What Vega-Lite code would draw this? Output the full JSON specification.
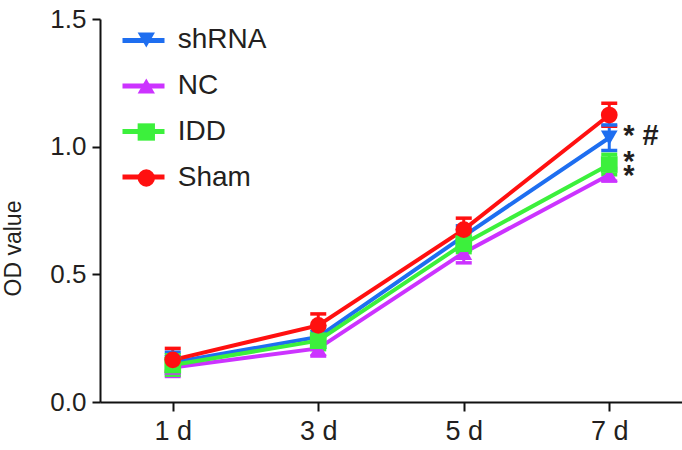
{
  "$schema": "https://vega.github.io/schema/vega-lite/v6.json",
  "width": 582,
  "height": 383,
  "autosize": {"type": "none"},
  "padding": {"left": 100, "top": 19, "right": 0, "bottom": 48},
  "background": "white",
  "config": {
    "view": {"stroke": null},
    "font": "Liberation Sans",
    "axis": {
      "domainColor": "#111111",
      "domainWidth": 2,
      "tickColor": "#111111",
      "tickWidth": 2,
      "labelFont": "Liberation Sans",
      "labelColor": "#231f20",
      "titleFont": "Liberation Sans",
      "titleColor": "#231f20",
      "titleFontWeight": "normal",
      "grid": false
    }
  },
  "datasets": {
    "pts": [
      {"group": "shRNA", "day": "1 d", "od": 0.155, "lo": 0.115, "hi": 0.195},
      {"group": "shRNA", "day": "3 d", "od": 0.255, "lo": 0.215, "hi": 0.295},
      {"group": "shRNA", "day": "5 d", "od": 0.65, "lo": 0.61, "hi": 0.69},
      {"group": "shRNA", "day": "7 d", "od": 1.035, "lo": 0.985, "hi": 1.085},
      {"group": "NC", "day": "1 d", "od": 0.135, "lo": 0.1, "hi": 0.17},
      {"group": "NC", "day": "3 d", "od": 0.21, "lo": 0.18, "hi": 0.24},
      {"group": "NC", "day": "5 d", "od": 0.585, "lo": 0.545, "hi": 0.625},
      {"group": "NC", "day": "7 d", "od": 0.89, "lo": 0.865, "hi": 0.915},
      {"group": "IDD", "day": "1 d", "od": 0.145, "lo": 0.105, "hi": 0.185},
      {"group": "IDD", "day": "3 d", "od": 0.24, "lo": 0.205, "hi": 0.275},
      {"group": "IDD", "day": "5 d", "od": 0.62, "lo": 0.585, "hi": 0.655},
      {"group": "IDD", "day": "7 d", "od": 0.93, "lo": 0.89, "hi": 0.97},
      {"group": "Sham", "day": "1 d", "od": 0.165, "lo": 0.12, "hi": 0.21},
      {"group": "Sham", "day": "3 d", "od": 0.3, "lo": 0.255, "hi": 0.345},
      {"group": "Sham", "day": "5 d", "od": 0.675, "lo": 0.63, "hi": 0.72},
      {"group": "Sham", "day": "7 d", "od": 1.124, "lo": 1.08, "hi": 1.17}
    ],
    "ann": [
      {"day": "7 d", "y": 1.005, "label": "* #"},
      {"day": "7 d", "y": 0.905, "label": "*"},
      {"day": "7 d", "y": 0.85, "label": "*"}
    ]
  },
  "layer": [
    {
      "data": {"name": "pts"},
      "mark": {"type": "rule", "strokeWidth": 3},
      "encoding": {
        "x": {"field": "day", "type": "ordinal", "scale": {"type": "point", "padding": 0.5},
          "axis": {"title": null, "labelAngle": 0, "labelFontSize": 27, "tickSize": 9, "labelPadding": 7}},
        "y": {"field": "lo", "type": "quantitative", "scale": {"domain": [0, 1.5], "nice": false, "zero": true},
          "axis": {"title": "OD value", "values": [0, 0.5, 1, 1.5], "format": ".1f", "labelFontSize": 26, "tickSize": 8, "labelPadding": 6,
            "titleFontSize": 23, "titleX": -87, "titleY": 229, "titleAngle": -90, "titleAlign": "center", "titleBaseline": "middle"}},
        "y2": {"field": "hi"},
        "stroke": {"field": "group", "type": "nominal", "sort": ["shRNA", "NC", "IDD", "Sham"],
          "scale": {"range": ["#1E6EF0", "#CC33FF", "#3CF03C", "#FF1010"]},
          "legend": {"title": null, "orient": "none", "legendX": 20, "legendY": -2, "padding": 0, "symbolType": "stroke",
            "symbolSize": 1764, "symbolStrokeWidth": 5, "labelFontSize": 28, "labelOpacity": 0, "labelOffset": 15, "rowPadding": 7.5, "labelLimit": 300}}
      }
    },
    {
      "data": {"name": "pts"},
      "mark": {"type": "rule", "strokeWidth": 3.5, "xOffset": -8, "x2Offset": 8},
      "encoding": {
        "x": {"field": "day", "type": "ordinal"},
        "x2": {"field": "day"},
        "y": {"field": "lo", "type": "quantitative"},
        "stroke": {"field": "group", "type": "nominal", "sort": ["shRNA", "NC", "IDD", "Sham"],
          "legend": {"title": null, "orient": "none", "legendX": 20, "legendY": -2, "padding": 0, "symbolType": "stroke",
            "symbolSize": 1764, "symbolStrokeWidth": 5, "labelFontSize": 28, "labelOpacity": 0, "labelOffset": 15, "rowPadding": 7.5, "labelLimit": 300}}
      }
    },
    {
      "data": {"name": "pts"},
      "mark": {"type": "rule", "strokeWidth": 3.5, "xOffset": -8, "x2Offset": 8},
      "encoding": {
        "x": {"field": "day", "type": "ordinal"},
        "x2": {"field": "day"},
        "y": {"field": "hi", "type": "quantitative"},
        "stroke": {"field": "group", "type": "nominal", "sort": ["shRNA", "NC", "IDD", "Sham"],
          "legend": {"title": null, "orient": "none", "legendX": 20, "legendY": -2, "padding": 0, "symbolType": "stroke",
            "symbolSize": 1764, "symbolStrokeWidth": 5, "labelFontSize": 28, "labelOpacity": 0, "labelOffset": 15, "rowPadding": 7.5, "labelLimit": 300}}
      }
    },
    {
      "data": {"name": "pts"},
      "mark": {"type": "line", "strokeWidth": 4},
      "encoding": {
        "x": {"field": "day", "type": "ordinal"},
        "y": {"field": "od", "type": "quantitative"},
        "stroke": {"field": "group", "type": "nominal", "sort": ["shRNA", "NC", "IDD", "Sham"],
          "legend": {"title": null, "orient": "none", "legendX": 20, "legendY": -2, "padding": 0, "symbolType": "stroke",
            "symbolSize": 1764, "symbolStrokeWidth": 5, "labelFontSize": 28, "labelOpacity": 0, "labelOffset": 15, "rowPadding": 7.5, "labelLimit": 300}}
      }
    },
    {
      "data": {"name": "pts"},
      "mark": {"type": "point", "filled": true, "opacity": 1, "size": 280},
      "encoding": {
        "x": {"field": "day", "type": "ordinal"},
        "y": {"field": "od", "type": "quantitative"},
        "color": {"field": "group", "type": "nominal",
          "scale": {"domain": ["shRNA", "NC", "IDD", "Sham"], "range": ["#1E6EF0", "#CC33FF", "#3CF03C", "#FF1010"]},
          "legend": {"title": null, "orient": "none", "legendX": 32.3, "legendY": 7, "padding": 0,
            "symbolSize": 300, "symbolOpacity": 1, "symbolStrokeWidth": 0, "labelFontSize": 28, "labelFont": "Liberation Sans",
            "labelColor": "#231f20", "labelOffset": 17.4, "rowPadding": 18, "labelLimit": 300}},
        "shape": {"field": "group", "type": "nominal",
          "scale": {"domain": ["shRNA", "NC", "IDD", "Sham"], "range": ["triangle-down", "triangle-up", "square", "circle"]},
          "legend": {"title": null, "orient": "none", "legendX": 32.3, "legendY": 7, "padding": 0,
            "symbolSize": 300, "symbolOpacity": 1, "symbolStrokeWidth": 0, "labelFontSize": 28, "labelFont": "Liberation Sans",
            "labelColor": "#231f20", "labelOffset": 17.4, "rowPadding": 18, "labelLimit": 300}}
      }
    },
    {
      "data": {"name": "ann"},
      "mark": {"type": "text", "align": "left", "baseline": "alphabetic", "dx": 14, "fontSize": 29, "fontWeight": "bold", "font": "Liberation Sans", "color": "#231f20"},
      "encoding": {
        "x": {"field": "day", "type": "ordinal"},
        "y": {"field": "y", "type": "quantitative"},
        "text": {"field": "label"}
      }
    }
  ]
}
